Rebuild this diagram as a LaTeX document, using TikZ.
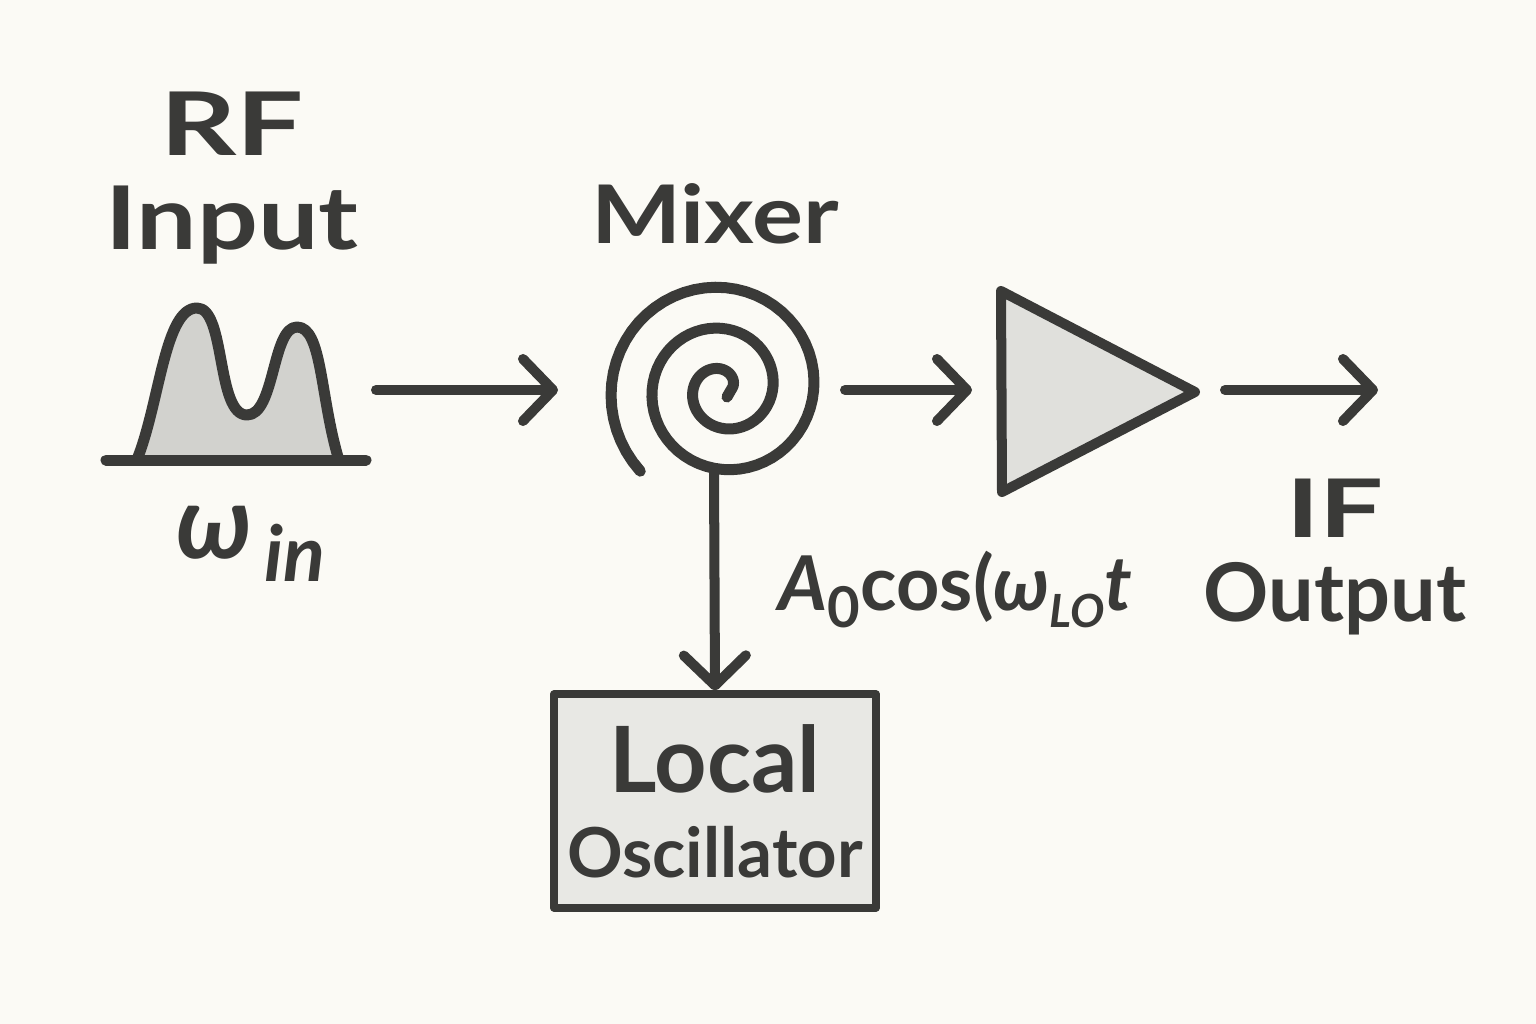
\documentclass[tikz,border=0pt]{standalone}
\usepackage{fontspec}
\setmainfont{Lato}
\usetikzlibrary{arrows.meta}
\definecolor{pencil}{HTML}{3A3A38}
\definecolor{paper}{HTML}{FBFAF5}
\definecolor{humpgrey}{HTML}{D2D2CE}
\definecolor{ampgrey}{HTML}{E0E0DC}
\definecolor{boxgrey}{HTML}{E8E8E4}
\newcommand{\lowsub}[2]{\raisebox{-0.45ex}{\fontsize{#1}{#1}\selectfont #2}}
\newcommand{\wider}[2]{{\addfontfeatures{FakeStretch=#1}#2}}
\begin{document}
\begin{tikzpicture}[
  x=0.01cm, y=-0.01cm,
  stroke/.style={draw=pencil, line width=0.11cm, line cap=round, line join=round},
  arrow/.style={stroke, line width=0.1cm, -{Straight Barb[length=0.3cm, width=0.62cm, line width=0.1cm, round]}},
  label/.style={text=pencil, font=\fontsize{23}{26.5}\selectfont\bfseries, align=center, inner sep=0pt}
]
% Paper
\fill[paper] (0,0) rectangle (1536,1024);

% RF input spectrum
\draw[stroke, fill=humpgrey] (138,457) .. controls (160,400) and (165,308) .. (197,308) .. controls (226,308) and (216,415) .. (247,415) .. controls (275,415) and (272,327) .. (297,327) .. controls (322,327) and (320,395) .. (338,457);
\coordinate (baseL) at (106,460);
\coordinate (baseR) at (366,460);
\draw[stroke] (baseL) -- (baseR);
\node[label, font=\fontsize{25}{26.5}\selectfont\bfseries] (rf) at (232,178) {\wider{1.35}{RF}\\\wider{1.22}{Input}};
\node[label, font=\fontsize{29}{30}\selectfont\itshape\bfseries] (win) at (251,544) {ω\lowsub{22}{\,in}};

% Mixer spiral
\draw[stroke] (727,397) -- plot[domain=0:945, samples=160] ({722.75+(9+0.1139*\x)*cos(\x)}, {388.7-(9+0.1139*\x)*sin(\x)});
\node[label] (mixer) at (715,214) {\wider{1.18}{Mixer}};
\coordinate (mixin) at (558,390);
\coordinate (mixout) at (845,390);
\coordinate (mixlo) at (714,470);

% IF amplifier
\coordinate (ampin) at (972,390);
\coordinate (ampout) at (1225,390);
\draw[stroke, line width=0.1cm, fill=ampgrey] (1001,291) -- (1195,392) -- (1002,492) -- cycle;

% Local oscillator
\node[stroke, fill=boxgrey, rectangle, minimum width=3.22cm, minimum height=2.13cm, inner sep=0pt, text=pencil, align=center, font=\fontsize{23}{24.2}\selectfont\bfseries, line width=0.08cm] (lo) at (715,801) {{\fontsize{26}{24.2}\selectfont Local}\\{\fontsize{19.6}{24.2}\selectfont Oscillator}};

% Outputs
\coordinate (rfout) at (376,390);
\coordinate (ifout) at (1378,390);
\node[label, font=\fontsize{23}{24}\selectfont\bfseries] (if) at (1335,557) {\wider{1.4}{IF}\\Output};
\node[label, anchor=base west, font=\fontsize{21.5}{26}\selectfont\bfseries] (acos) at (778,610) {\textit{A}\lowsub{16}{0}cos(\textit{ω}\lowsub{13}{\textit{LO}}\textit{t}};

% Connections
\draw[arrow] (rfout) -- (mixin);
\draw[arrow] (mixout) -- (ampin);
\draw[arrow] (ampout) -- (ifout);
\draw[arrow] (mixlo) -- (lo.north);
\end{tikzpicture}
\end{document}
